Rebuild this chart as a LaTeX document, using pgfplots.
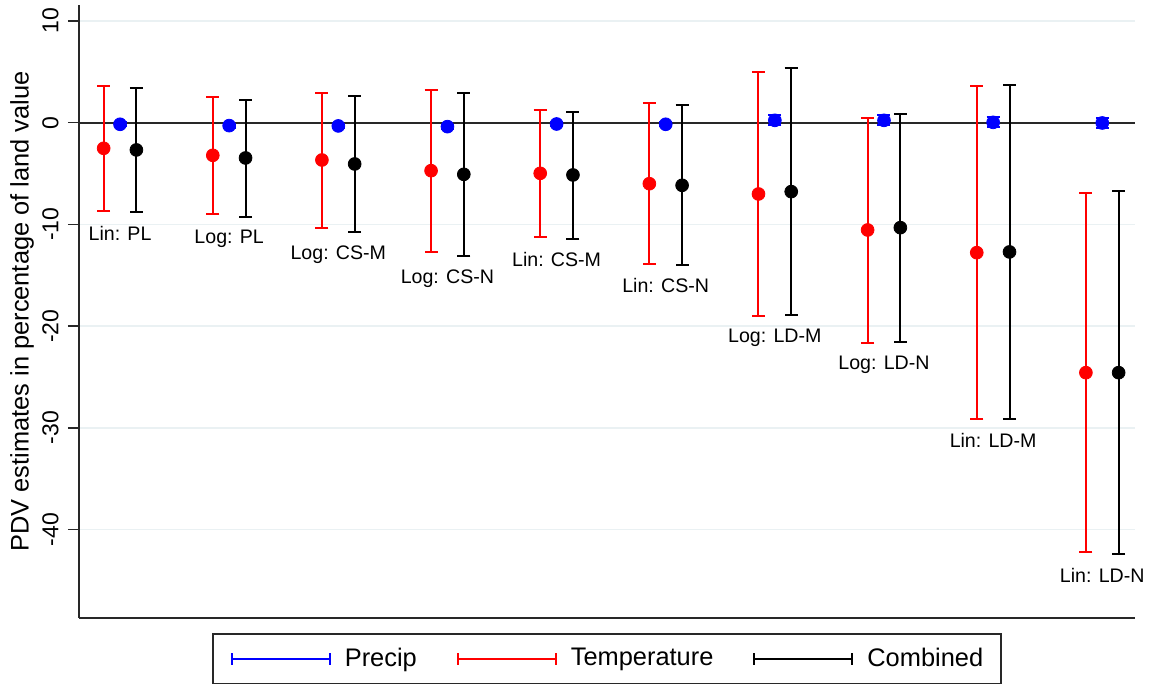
\documentclass[border=0pt]{standalone}
\usepackage{fontspec}
\setmainfont{Liberation Sans}
\usepackage{pgfplots}
\pgfplotsset{compat=1.18}
\usepackage{pgfplotstable}

\definecolor{gridc}{RGB}{234,241,243}
\definecolor{axc}{RGB}{40,40,40}

% g: model position; t = temperature, p = precip, c = combined (mean, lower, upper)
\pgfplotstableread{
g    tm      tlo     thi    pm     plo    phi    cm      clo     chi
1   -2.52   -8.65   3.64  -0.16  -0.36   0.04  -2.68   -8.81   3.38
2   -3.21   -8.94   2.50  -0.29  -0.49  -0.09  -3.47   -9.24   2.23
3   -3.67  -10.39   2.92  -0.32  -0.52  -0.12  -4.06  -10.78   2.66
4   -4.72  -12.68   3.18  -0.39  -0.59  -0.19  -5.08  -13.11   2.89
5   -4.98  -11.27   1.25  -0.13  -0.33   0.07  -5.14  -11.40   1.08
6   -6.00  -13.89   1.94  -0.16  -0.36   0.04  -6.16  -13.99   1.74
7   -7.01  -18.97   4.96   0.23  -0.27   0.73  -6.78  -18.88   5.35
8  -10.55  -21.63   0.46   0.23  -0.27   0.73 -10.32  -21.59   0.89
9  -12.78  -29.10   3.58   0.03  -0.47   0.53 -12.71  -29.17   3.71
10 -24.58  -42.20  -6.94  -0.03  -0.53   0.47 -24.58  -42.44  -6.75
}\pdv

\pgfplotsset{
  rcap/.style={only marks, mark=*, mark size=3.2pt, forget plot,
    error bars/.cd, y dir=both, y explicit,
    error bar style={line width=1pt, #1},
    error mark options={rotate=90, mark size=3.25pt, line width=1pt, #1}},
  rcapleg/.style={legend image code/.code={
    \draw[line width=1pt] (0pt,0pt) -- (49pt,0pt);
    \draw[line width=1pt] (0pt,-3pt) -- (0pt,3pt);
    \draw[line width=1pt] (49pt,-3pt) -- (49pt,3pt);}}
}

\begin{document}
\begin{tikzpicture}
\begin{axis}[
    width=528pt, height=306.5pt, scale only axis,
    xmin=0.624, xmax=10.3, ymin=-48.7, ymax=11.57,
    axis x line*=bottom, axis y line*=left,
    axis line style={axc, line width=0.75pt},
    xtick=\empty,
    ytick={-40,-30,-20,-10,0,10},
    /pgf/number format/assume math mode=true,
    tick align=outside, major tick length=5.5pt,
    ytick style={axc, line width=0.75pt},
    yticklabel style={rotate=90, anchor=south, inner sep=0pt, inner ysep=4.5pt,
        font=\fontsize{11.5}{13}\selectfont},
    ymajorgrids, major grid style={gridc, line width=0.75pt},
    ylabel={PDV estimates in percentage of land value},
    ylabel style={at={(rel axis cs:-0.0478,0.5)}, anchor=base,
        font=\fontsize{12.7}{15}\selectfont},
    clip=false,
    legend columns=3,
    legend style={at={(0.5,-0.0245)}, anchor=north,
        draw=axc, line width=0.75pt,
        font=\fontsize{12.7}{15}\selectfont,
        inner xsep=9pt, inner ysep=7pt,
        nodes={inner sep=0pt, text depth=0.2em},
        /tikz/every odd column/.append style={column sep=7pt},
        /tikz/every even column/.append style={column sep=20pt}},
    legend cell align=left,
]
% zero line
\addplot[axc, line width=1pt, forget plot] coordinates {(0.624,0) (10.3,0)};

\addplot[red, rcap=red] table[x expr=\thisrow{g}-0.15, y=tm,
    y error plus expr=\thisrow{thi}-\thisrow{tm},
    y error minus expr=\thisrow{tm}-\thisrow{tlo}] {\pdv};
\addplot[black, rcap=black] table[x expr=\thisrow{g}+0.15, y=cm,
    y error plus expr=\thisrow{chi}-\thisrow{cm},
    y error minus expr=\thisrow{cm}-\thisrow{clo}] {\pdv};
\addplot[blue, rcap=blue] table[x=g, y=pm,
    y error plus expr=\thisrow{phi}-\thisrow{pm},
    y error minus expr=\thisrow{pm}-\thisrow{plo}] {\pdv};

\addlegendimage{blue, rcapleg}\addlegendentry{Precip}
\addlegendimage{red, rcapleg}\addlegendentry{Temperature}
\addlegendimage{black, rcapleg}\addlegendentry{Combined}

\begin{scope}[every node/.style={anchor=north, inner sep=0pt, yshift=-6.7pt,
    font=\fontsize{9.8}{12}\selectfont}]
\node at (axis cs:1,-8.81) {Lin: PL};
\node at (axis cs:2,-9.24) {Log: PL};
\node at (axis cs:3,-10.78) {Log: CS-M};
\node at (axis cs:4,-13.11) {Log: CS-N};
\node at (axis cs:5,-11.40) {Lin: CS-M};
\node at (axis cs:6,-13.99) {Lin: CS-N};
\node at (axis cs:7,-18.97) {Log: LD-M};
\node at (axis cs:8,-21.63) {Log: LD-N};
\node at (axis cs:9,-29.17) {Lin: LD-M};
\node at (axis cs:10,-42.44) {Lin: LD-N};
\end{scope}
\end{axis}
\pgfresetboundingbox
\path ([shift={(-39.5pt,-33pt)}]current axis.south west)
    rectangle ([shift={(8.5pt,2.5pt)}]current axis.north east);
\end{tikzpicture}
\end{document}
